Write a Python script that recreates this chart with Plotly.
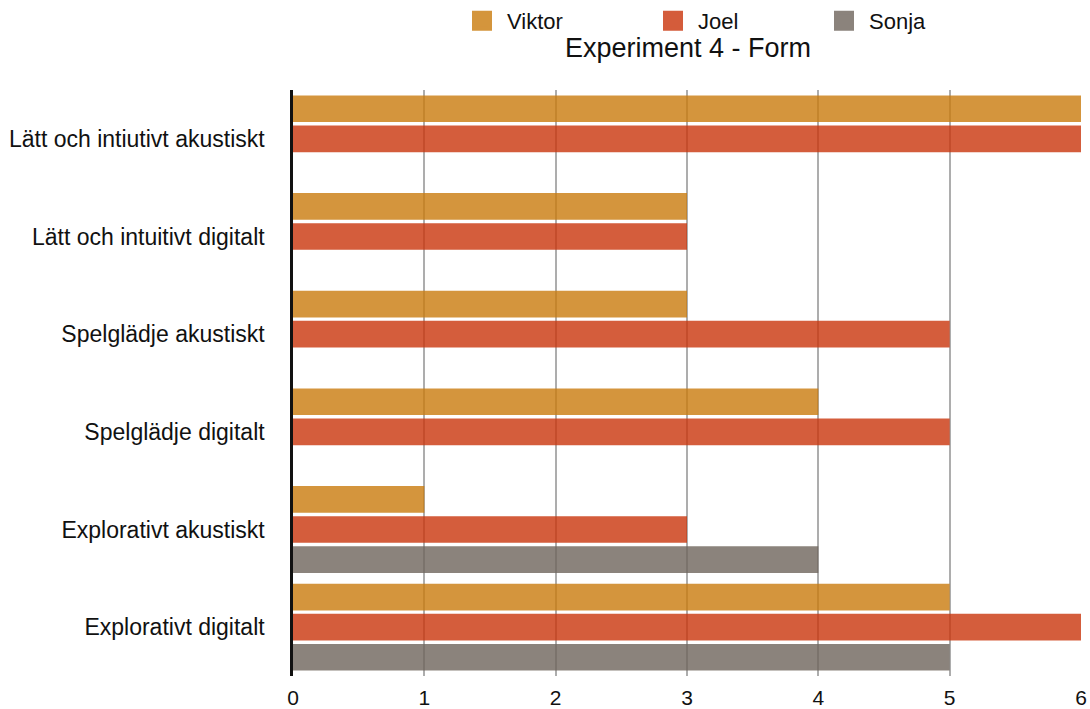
import plotly.graph_objects as go

categories = [
    "Lätt och intiutivt akustiskt",
    "Lätt och intuitivt digitalt",
    "Spelglädje akustiskt",
    "Spelglädje digitalt",
    "Explorativt akustiskt",
    "Explorativt digitalt",
]
viktor = [6, 3, 3, 4, 1, 5]
joel = [6, 3, 5, 5, 3, 6]
sonja = [None, None, None, None, 4, 5]
x_ticks = [0, 1, 2, 3, 4, 5, 6]

# name, values, bar fill (semi-transparent), legend swatch colour, legend left edge (px)
series = [
    ("Viktor", viktor, "rgba(201,122,12,0.8)", "rgb(212,149,60)", 457),
    ("Joel", joel, "rgba(201,52,11,0.8)", "rgb(212,92,59)", 648),
    ("Sonja", sonja, "rgba(110,100,91,0.8)", "rgb(139,131,124)", 819),
]

FONT = "Liberation Sans, Arial, Helvetica, sans-serif"
fig = go.Figure()

legend_layout = {}
for i, (name, vals, color, swatch, lx) in enumerate(series):
    lg = "legend" if i == 0 else f"legend{i + 1}"
    fig.add_trace(go.Bar(
        y=categories, x=vals, name=name, orientation="h",
        marker=dict(color=color, line=dict(width=0)),
        showlegend=False,
    ))
    # legend swatch: large square marker
    fig.add_trace(go.Scatter(
        x=[None], y=[None], mode="markers", name=name, legend=lg,
        marker=dict(symbol="square", size=16, color=swatch,
                    line=dict(color=swatch, width=4)),
        showlegend=True,
    ))
    legend_layout[lg] = dict(
        orientation="h", xref="container", yref="container",
        x=lx / 1090, xanchor="left", y=1 - 21 / 709, yanchor="middle",
        itemwidth=40,
        font=dict(family=FONT, size=22, color="#111"),
        bgcolor="rgba(0,0,0,0)", borderwidth=0,
    )

fig.update_layout(
    width=1090, height=709,
    margin=dict(l=293, r=9, t=90, b=33),
    paper_bgcolor="white", plot_bgcolor="white",
    barmode="group", bargap=0.076, bargroupgap=0.113,
    font=dict(family=FONT, size=23, color="#111"),
    title=dict(text="Experiment 4 - Form", xref="container", yref="container",
               x=688 / 1090, xanchor="center", y=1 - 48 / 709, yanchor="middle",
               font=dict(family=FONT, size=27, color="#111")),
    xaxis=dict(range=[0, 6], tickvals=x_ticks, ticktext=[str(v) for v in x_ticks],
               showgrid=True, gridcolor="#adadad", gridwidth=2,
               zeroline=False, showline=False, ticks="", automargin=False,
               tickfont=dict(size=21), ticklabelstandoff=7),
    yaxis=dict(autorange="reversed", showgrid=False, zeroline=False,
               showline=True, linecolor="#111", linewidth=2.5, ticks="",
               automargin=False,
               tickfont=dict(size=23), ticklabelstandoff=21),
    **legend_layout,
)

fig.write_html("out.html")
